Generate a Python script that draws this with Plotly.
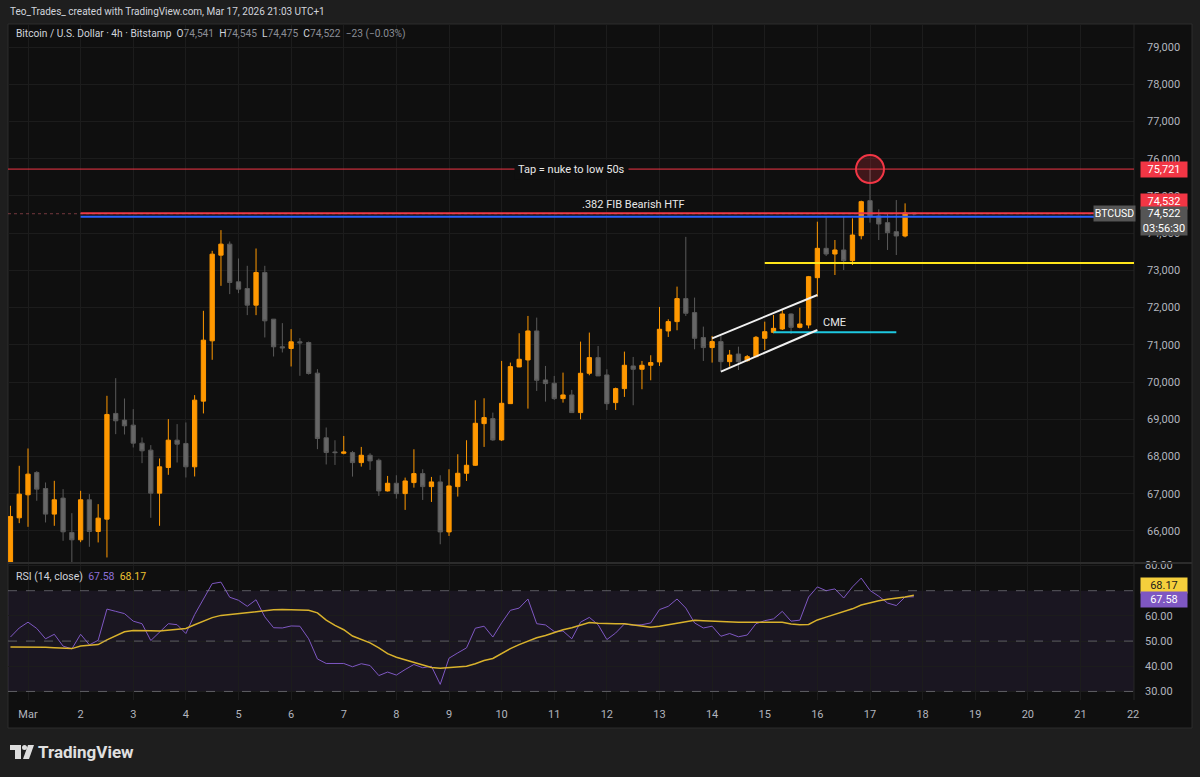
import plotly.graph_objects as go
import pandas as pd

W, H = 1200, 777

# ---------------- data ----------------
times = pd.date_range("2026-02-28 16:00", periods=104, freq="4h")

opens = [65050, 66354, 66972, 67572, 67142, 66453, 66883, 65960, 65763, 66838,
         65987, 66318, 69157, 68978, 68843, 68360, 68172, 67017, 67706, 68440,
         68351, 67724, 69488, 71108, 73409, 73705, 72693, 72514, 72066, 72944,
         71690, 70947, 70902, 71081, 71063, 70240, 68503, 68123, 68088, 68105,
         67837, 68034, 67900, 67076, 67282, 67004, 67300, 67541, 67192, 67318,
         65975, 67192, 67550, 67765, 68884, 69019, 68446, 69421, 70406, 70594,
         71373, 70057, 69968, 69556, 69654, 69180, 70236, 70657, 70191, 69448,
         69824, 70433, 70344, 70451, 70541, 71373, 71624, 72242, 71866, 71194,
         70926, 71087, 70548, 70754, 70575, 70683, 71175, 71336, 71426, 71829,
         71470, 71533, 72804, 73592, 73440, 73548, 73261, 73932, 74873, 74461,
         74282, 74040, 73924, 74541]
highs = [66677, 67751, 68216, 67608, 67303, 67348, 67124, 66479, 67079, 66990,
         66721, 69631, 70105, 69559, 69273, 68512, 68306, 67948, 69004, 68870,
         68915, 69649, 71914, 73525, 74081, 73776, 73320, 73123, 73588, 73123,
         71690, 71583, 71421, 71180, 71090, 70347, 68780, 68437, 68553, 68150,
         68258, 68088, 67945, 67479, 67497, 67434, 68195, 67658, 67452, 67497,
         67658, 68061, 68437, 69511, 69565, 69180, 70568, 70523, 71311, 71776,
         71731, 70433, 70165, 70254, 69789, 71087, 71329, 70970, 70344, 69851,
         70818, 70675, 70567, 70720, 72018, 71687, 72564, 73900, 72269, 71490,
         71239, 71239, 70862, 70951, 70727, 71238, 71623, 71802, 71936, 71846,
         71998, 72850, 74308, 74425, 73816, 74443, 74398, 74873, 75721, 74640,
         74532, 74890, 74800, 74545]
lows = [64900, 66211, 66112, 66811, 66229, 66139, 65736, 65150, 65700, 65575,
        65692, 65289, 68601, 68592, 68243, 67822, 66354, 66139, 67509, 67840,
        67437, 67464, 69157, 70598, 72585, 72362, 72388, 71798, 71798, 71198,
        70687, 70795, 70419, 70168, 70200, 68198, 67787, 67774, 68061, 67461,
        67730, 67640, 66942, 67060, 66870, 66566, 67165, 66834, 66780, 65643,
        65867, 66924, 67344, 67747, 68258, 68419, 68419, 69421, 70400, 69287,
        69762, 69475, 69520, 69448, 69180, 68999, 70183, 70165, 69251, 69251,
        69601, 69377, 69807, 70048, 70433, 71212, 71391, 71776, 70881, 70567,
        70523, 70280, 70414, 70324, 70548, 70665, 70862, 71309, 71399, 71291,
        71443, 71443, 72294, 73386, 72876, 73010, 73145, 73834, 74282, 73816,
        73548, 73413, 73888, 74475]
closes = [66390, 66990, 67527, 67124, 66453, 66838, 65978, 65763, 66838, 65987,
          66345, 69130, 68960, 68825, 68360, 68154, 67017, 67724, 68440, 68333,
          67724, 69515, 71126, 73436, 73705, 72675, 72496, 72066, 72944, 71645,
          70947, 70920, 71081, 71054, 70231, 68485, 68109, 68105, 68123, 67837,
          68034, 67882, 67076, 67282, 67004, 67344, 67541, 67192, 67318, 65975,
          67210, 67550, 67765, 68893, 69046, 68446, 69430, 70415, 70612, 71373,
          70048, 69959, 69556, 69654, 69180, 70236, 70657, 70165, 69421, 69824,
          70451, 70344, 70451, 70523, 71418, 71624, 72242, 71848, 71176, 70926,
          71087, 70548, 70727, 70548, 70683, 71202, 71354, 71443, 71829, 71470,
          71560, 72831, 73592, 73440, 73548, 73261, 73950, 74846, 74461, 74246,
          74013, 73924, 74541, 74522]

rsi = [51.6, 55.2, 57.5, 55.0, 50.9, 52.7, 48.0, 46.9, 52.7, 48.5,
       50.3, 62.7, 61.8, 60.9, 57.9, 56.9, 50.2, 53.5, 56.9, 56.5,
       53.0, 60.5, 66.7, 72.8, 73.4, 67.4, 66.2, 63.8, 66.4, 59.6,
       55.3, 55.2, 56.0, 55.9, 50.9, 42.9, 41.1, 41.1, 41.1, 39.8,
       41.0, 40.3, 36.3, 37.7, 36.5, 38.7, 40.7, 39.4, 40.0, 32.8,
       43.2, 45.3, 47.3, 55.1, 55.9, 51.6, 57.2, 62.2, 63.1, 66.7,
       56.9, 56.4, 53.8, 54.0, 50.9, 57.5, 59.4, 56.5, 50.6, 53.2,
       56.8, 56.3, 56.5, 57.2, 62.5, 63.8, 66.7, 63.1, 57.2, 55.2,
       55.9, 51.9, 53.0, 51.7, 52.4, 56.9, 58.1, 58.8, 61.8, 57.9,
       58.3, 67.5, 71.5, 70.0, 70.7, 67.1, 71.5, 75.0, 70.1, 67.8,
       65.1, 64.1, 67.5, 67.58]
rsi_ma = [47.6, 47.6, 47.6, 47.6, 47.5, 47.3, 47.1, 47.0, 48.0, 48.3,
          48.6, 50.5, 52.0, 53.7, 54.2, 54.3, 54.1, 54.0, 54.3, 54.6,
          55.0, 56.5, 58.0, 59.3, 60.2, 60.6, 60.9, 61.2, 61.6, 62.1,
          62.4, 62.5, 62.4, 62.3, 62.2, 61.2, 58.3, 56.2, 54.5, 52.0,
          50.7, 49.3, 47.3, 45.0, 43.6, 42.6, 41.6, 40.5, 39.5, 39.2,
          39.4, 39.7, 40.0, 41.0, 42.3, 43.1, 45.2, 47.0, 48.6, 50.0,
          51.3, 52.2, 53.5, 54.5, 55.3, 56.2, 57.4, 57.1, 56.9, 56.9,
          56.9, 56.5, 56.1, 55.5, 55.9, 56.5, 57.4, 58.0, 58.3, 58.1,
          57.9, 57.6, 57.5, 57.5, 57.5, 57.5, 57.6, 57.6, 57.5, 56.8,
          56.5, 56.6, 58.4, 59.5, 60.5, 61.6, 62.8, 64.3, 65.2, 66.0,
          66.6, 67.0, 67.5, 68.17]

day_ticks = pd.date_range("2026-03-01", "2026-03-22", freq="D")
day_labels = ["Mar"] + [str(d) for d in range(2, 23)]
price_ticks = list(range(66000, 80000, 1000))
rsi_ticks = [30, 40, 50, 60, 80]

# drawn levels
tap_level = 75721
fib_red_level = 74532
fib_blue_level = 74440
last_price = 74522
yellow_level = 73200
cme_level = 71340
rsi_value, rsi_ma_value = 67.58, 68.17
channel_upper = [(pd.Timestamp("2026-03-14 00:00"), 71175), (pd.Timestamp("2026-03-16 00:00"), 72339)]
channel_lower = [(pd.Timestamp("2026-03-14 04:00"), 70280), (pd.Timestamp("2026-03-16 00:00"), 71399)]

# ---------------- figure ----------------
BG_OUT = "#1e1e1e"
BG = "#0f0f0f"
GRID = "#1c1c1c"
TXT = "#b2b5be"
FONT = "Roboto"

fig = go.Figure()
fig.add_trace(go.Candlestick(
    x=times, open=opens, high=highs, low=lows, close=closes,
    xaxis="x", yaxis="y",
    increasing=dict(line=dict(color="#ff9800", width=1), fillcolor="#ff9800"),
    decreasing=dict(line=dict(color="#5a5a5a", width=1), fillcolor="#666666"),
    whiskerwidth=0, showlegend=False, hoverinfo="skip"))
fig.add_trace(go.Scatter(x=times, y=rsi, xaxis="x", yaxis="y2", mode="lines",
                         line=dict(color="#7e57c2", width=1), showlegend=False, hoverinfo="skip"))
fig.add_trace(go.Scatter(x=times, y=rsi_ma, xaxis="x", yaxis="y2", mode="lines",
                         line=dict(color="#d9b22c", width=1.5), showlegend=False, hoverinfo="skip"))

x_left = times[0] - pd.Timedelta(hours=1.12)
x_right = pd.Timestamp("2026-03-22 00:24")

def py(y):
    return 1 - y / H

shapes = []
# chart frame
shapes.append(dict(type="rect", xref="paper", yref="paper", x0=8 / W, x1=1192 / W, y0=py(728), y1=py(24),
                   fillcolor=BG, line=dict(color="#2c2c2c", width=1), layer="below"))
# pane separators
shapes.append(dict(type="line", xref="paper", yref="paper", x0=8 / W, x1=1192 / W, y0=py(563), y1=py(563),
                   line=dict(color="#2c2c2c", width=2)))
shapes.append(dict(type="line", xref="paper", yref="paper", x0=1134 / W, x1=1134 / W, y0=py(700), y1=py(24),
                   line=dict(color="#262626", width=1)))
# RSI band
shapes.append(dict(type="rect", xref="x domain", yref="y2", x0=0, x1=1, y0=30, y1=70,
                   fillcolor="rgba(126,87,194,0.10)", line=dict(width=0), layer="below"))
for lvl in (70, 50, 30):
    shapes.append(dict(type="line", xref="x domain", yref="y2", x0=0, x1=1, y0=lvl, y1=lvl,
                       line=dict(color="rgba(150,150,160,0.55)", width=1, dash="dash")))
# horizontal drawings
shapes.append(dict(type="line", xref="x domain", yref="y", x0=0, x1=1, y0=tap_level, y1=tap_level,
                   line=dict(color="#f23645", width=1)))
shapes.append(dict(type="line", xref="x", yref="y", x0=pd.Timestamp("2026-03-02"), x1=x_right,
                   y0=fib_blue_level, y1=fib_blue_level, line=dict(color="#2962ff", width=2)))
shapes.append(dict(type="line", xref="x", yref="y", x0=pd.Timestamp("2026-03-02"), x1=x_right,
                   y0=fib_red_level, y1=fib_red_level, line=dict(color="#f23645", width=2)))
shapes.append(dict(type="line", xref="x domain", yref="y", x0=0, x1=1, y0=last_price, y1=last_price,
                   line=dict(color="rgba(200,90,100,0.55)", width=1, dash="dot")))
shapes.append(dict(type="line", xref="x", yref="y", x0=pd.Timestamp("2026-03-15"), x1=x_right,
                   y0=yellow_level, y1=yellow_level, line=dict(color="#ffe51a", width=2)))
shapes.append(dict(type="line", xref="x", yref="y", x0=pd.Timestamp("2026-03-15 04:00"),
                   x1=pd.Timestamp("2026-03-17 12:00"), y0=cme_level, y1=cme_level,
                   line=dict(color="#1ec8e0", width=2)))
for (a, b) in (channel_upper, channel_lower):
    shapes.append(dict(type="line", xref="x", yref="y", x0=a[0], y0=a[1], x1=b[0], y1=b[1],
                       line=dict(color="#f0f0f0", width=2)))
# red circle at the tap
shapes.append(dict(type="circle", xref="x", yref="y", xsizemode="pixel", ysizemode="pixel",
                   xanchor=times[98], yanchor=tap_level, x0=-14, x1=14, y0=-14, y1=14,
                   fillcolor="rgba(242,54,69,0.22)", line=dict(color="#f23645", width=2)))

# TradingView logo (simple)
shapes.append(dict(type="rect", xref="paper", yref="paper", x0=10 / W, x1=21 / W, y0=py(750), y1=py(745),
                   fillcolor="#dddddd", line=dict(width=0)))
shapes.append(dict(type="rect", xref="paper", yref="paper", x0=15 / W, x1=21 / W, y0=py(759), y1=py(745),
                   fillcolor="#dddddd", line=dict(width=0)))
shapes.append(dict(type="circle", xref="paper", yref="paper", x0=22 / W, x1=27 / W, y0=py(750), y1=py(745),
                   fillcolor="#dddddd", line=dict(width=0)))
shapes.append(dict(type="path", xref="paper", yref="paper",
                   path=f"M {28/W} {py(745)} L {34/W} {py(745)} L {29/W} {py(759)} L {23/W} {py(759)} Z",
                   fillcolor="#dddddd", line=dict(width=0)))

ann = []
def add_text(text, x, y, size=11, color="#d1d4dc", xanchor="left", xref="paper", yref="paper", **kw):
    ann.append(dict(text=text, x=x, y=y, xref=xref, yref=yref, xanchor=xanchor, yanchor="middle",
                    showarrow=False, font=dict(family=FONT, size=size, color=color), **kw))

add_text("Teo_Trades_ created with TradingView.com, Mar 17, 2026 21:03 UTC+1", 8 / W, py(11), size=10)
grey = "#8a8d95"
legend = ("Bitcoin / U.S. Dollar · 4h · Bitstamp&nbsp;&nbsp;"
          f"O<span style='color:{grey}'>74,541</span>&nbsp;&nbsp;"
          f"H<span style='color:{grey}'>74,545</span>&nbsp;&nbsp;"
          f"L<span style='color:{grey}'>74,475</span>&nbsp;&nbsp;"
          f"C<span style='color:{grey}'>74,522</span>&nbsp;&nbsp;"
          f"<span style='color:{grey}'>−23 (−0.03%)</span>")
add_text(legend, 14 / W, py(34), size=10.2)
add_text("RSI (14, close)&nbsp;&nbsp;<span style='color:#8e6fd6'>67.58</span>&nbsp;&nbsp;"
         "<span style='color:#f0c330'>68.17</span>", 14 / W, py(576), size=10.5)
add_text("<b>TradingView</b>", 36 / W, py(752), size=17, color="#e0e0e0")

# chart labels
add_text("Tap = nuke to low 50s", times[64], tap_level, xref="x", yref="y", xanchor="center",
         color="#e8e8e8", bgcolor=BG, borderpad=3)
add_text(".382 FIB Bearish HTF", times[71], fib_red_level, xref="x", yref="y", xanchor="center",
         color="#e8e8e8", yshift=9)
add_text("CME", times[94], cme_level, xref="x", yref="y", xanchor="center", color="#e8e8e8", yshift=10)

# axis label boxes
def box(text, x, y, yref, bg, fg="#ffffff", yshift=0, width=44, height=13, size=11):
    ann.append(dict(text=text, x=x, y=y, xref="paper", yref=yref, xanchor="center", yanchor="middle",
                    showarrow=False, font=dict(family=FONT, size=size, color=fg), bgcolor=bg,
                    width=width, height=height, borderpad=1, yshift=yshift))

box("75,721", 1164 / W, tap_level, "y", "#f23645")
box("74,532", 1164 / W, fib_red_level, "y", "#f23645", yshift=12)
box("74,522<br>03:56:30", 1164 / W, last_price, "y", "#555555", yshift=-7, height=26)
box("BTCUSD", 1114 / W, last_price, "y", "#555555", width=39, size=10.5)
box("68.17", 1164 / W, rsi_ma_value, "y2", "#f5cf3c", fg="#1a1a1a", yshift=10)
box("67.58", 1164 / W, rsi_value, "y2", "#7e57c2", yshift=-3)

fig.update_layout(
    width=W, height=H, margin=dict(l=0, r=0, t=0, b=0),
    paper_bgcolor=BG_OUT, plot_bgcolor=BG,
    font=dict(family=FONT, color=TXT, size=11),
    showlegend=False, shapes=shapes, annotations=ann,
    xaxis=dict(domain=[8 / W, 1134 / W], anchor="y2", range=[x_left, x_right],
               tickvals=day_ticks, ticktext=day_labels, showgrid=True, gridcolor=GRID, gridwidth=1,
               zeroline=False, showline=False, ticks="", tickfont=dict(color=TXT, size=11),
               ticklabelstandoff=6, rangeslider=dict(visible=False), automargin=False, fixedrange=True),
    yaxis=dict(domain=[py(562), py(25)], range=[65167, 79591], side="right", anchor="x",
               tickvals=price_ticks, tickformat=",d", showgrid=True, gridcolor=GRID, zeroline=False,
               showline=False, ticks="", tickfont=dict(color=TXT, size=11), ticklabelstandoff=12,
               automargin=False),
    yaxis2=dict(domain=[py(700), py(564)], range=[26.6, 80.6], side="right", anchor="x",
                tickvals=rsi_ticks, tickformat=".2f", showgrid=True, gridcolor=GRID, zeroline=False,
                showline=False, ticks="", tickfont=dict(color=TXT, size=11), ticklabelstandoff=10,
                automargin=False),
)

fig.write_html("out.html")
